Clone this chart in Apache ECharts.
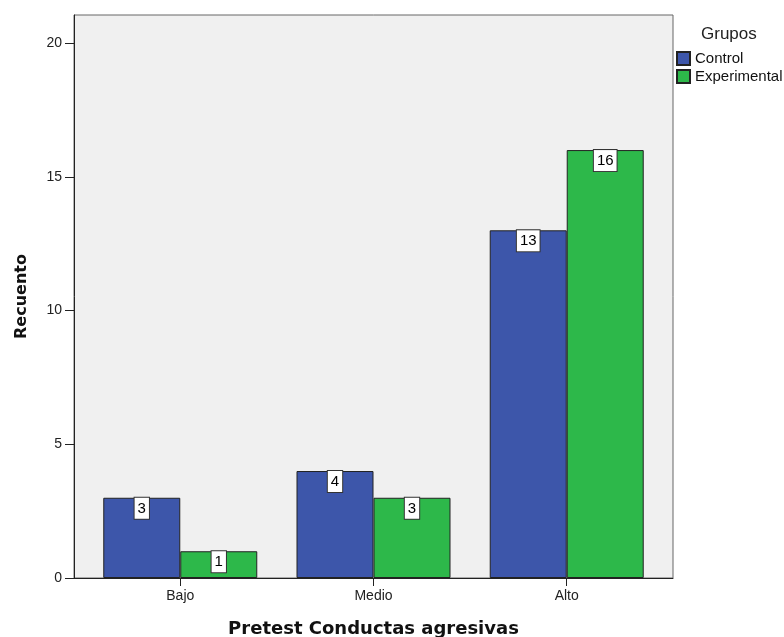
<!DOCTYPE html>
<html>
<head>
<meta charset="utf-8">
<script src="https://cdn.jsdelivr.net/npm/echarts@6/dist/echarts.min.js"></script>
<style>
  html, body { margin: 0; padding: 0; background: #fff; }
  #chart { width: 784px; height: 637px; }
</style>
</head>
<body>
<div id="chart"></div>
<script>
// Recuento por nivel de conductas agresivas (pretest), por grupo
const categories = ['Bajo', 'Medio', 'Alto'];
const controlValues = [3, 4, 13];
const experimentalValues = [1, 3, 16];
const yTicks = [0, 5, 10, 15, 20];
const groupNames = ['Control', 'Experimental'];

// Categories sit at positions 1..n on a value axis so the outer padding can be set freely
const positions = categories.map((_, i) => i + 1);
const toPoints = vals => vals.map((v, i) => [positions[i], v]);

const sansFont = '"Liberation Sans", Arial, sans-serif';
const boldFont = '"DejaVu Sans", Verdana, sans-serif';

const barLabel = {
  show: true,
  position: 'insideTop',
  distance: 0,
  formatter: p => String(p.value[1]),
  color: '#000',
  fontFamily: sansFont,
  fontSize: 15,
  lineHeight: 16,
  backgroundColor: '#fff',
  borderColor: '#333',
  borderWidth: 1,
  padding: [3, 3, 2, 3]
};

const chart = echarts.init(document.getElementById('chart'), null, { renderer: 'canvas' });

chart.setOption({
  animation: false,
  backgroundColor: '#fff',
  title: {
    text: 'Grupos',
    left: 696,
    top: 21,
    textStyle: { fontFamily: sansFont, fontSize: 17, fontWeight: 'normal', color: '#222' }
  },
  legend: {
    data: groupNames,
    orient: 'vertical',
    left: 676,
    top: 51,
    padding: 0,
    itemWidth: 13,
    itemHeight: 13,
    itemGap: 3,
    icon: 'rect',
    textStyle: { fontFamily: sansFont, fontSize: 15, color: '#111' }
  },
  grid: {
    left: 74,
    right: 111,
    top: 15,
    bottom: 59,
    outerBoundsMode: 'none',
    containLabel: false,
    show: true,
    backgroundColor: '#F0F0F0',
    borderColor: '#666',
    borderWidth: 1
  },
  xAxis: {
    type: 'value',
    min: 0.45,
    max: 3.55,
    name: 'Pretest Conductas agresivas',
    nameLocation: 'middle',
    nameGap: 42,
    nameTextStyle: { fontFamily: boldFont, fontSize: 18, fontWeight: 'bold', color: '#111' },
    axisLine: { show: true, lineStyle: { color: '#222', width: 1 } },
    axisTick: { show: true, customValues: positions, length: 8, lineStyle: { color: '#222' } },
    axisLabel: {
      customValues: positions,
      formatter: v => categories[Math.round(v) - 1] || '',
      fontFamily: sansFont,
      fontSize: 14,
      color: '#222',
      margin: 11
    },
    splitLine: { show: false }
  },
  yAxis: {
    type: 'value',
    min: 0,
    max: 21.05,
    name: 'Recuento',
    nameLocation: 'middle',
    nameGap: 44,
    nameRotate: 90,
    nameTextStyle: { fontFamily: boldFont, fontSize: 16, fontWeight: 'bold', color: '#111' },
    axisLine: { show: true, lineStyle: { color: '#222', width: 1 } },
    axisTick: { show: true, customValues: yTicks, length: 9, lineStyle: { color: '#222' } },
    axisLabel: {
      customValues: yTicks,
      fontFamily: sansFont,
      fontSize: 14,
      color: '#222',
      margin: 12
    },
    splitLine: { show: false }
  },
  series: [
    {
      name: groupNames[0],
      type: 'bar',
      data: toPoints(controlValues),
      barWidth: 77,
      barGap: '0%',
      itemStyle: { color: '#3D56AA', borderColor: '#222', borderWidth: 1 },
      label: barLabel
    },
    {
      name: groupNames[1],
      type: 'bar',
      data: toPoints(experimentalValues),
      barWidth: 77,
      barGap: '0%',
      itemStyle: { color: '#2DB84A', borderColor: '#222', borderWidth: 1 },
      label: barLabel
    }
  ]
});
</script>
</body>
</html>
